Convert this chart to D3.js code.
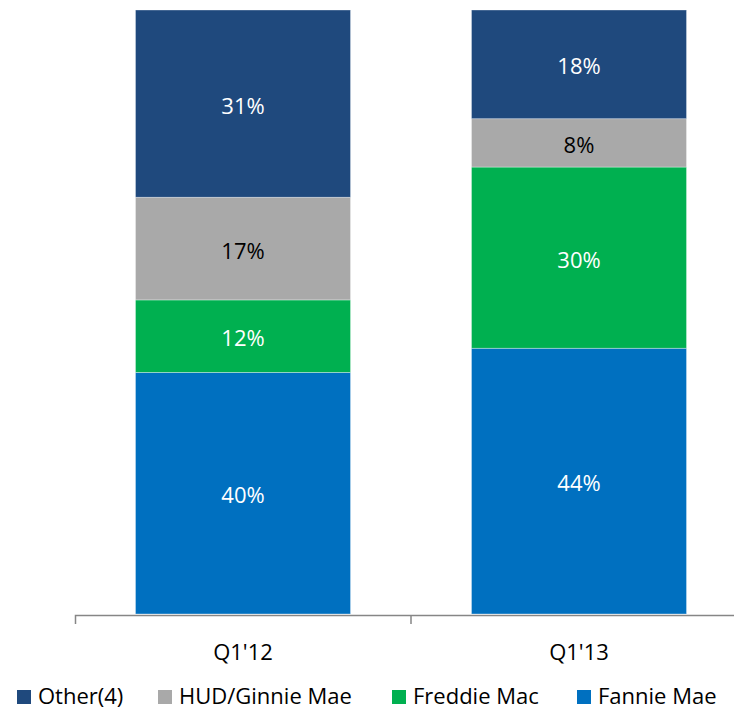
<!DOCTYPE html>
<html>
<head>
<meta charset="utf-8">
<script src="https://cdn.jsdelivr.net/npm/d3@7"></script>
<style>
  body { margin: 0; background: #fff; }
  text { font-family: "Open Sans", sans-serif; }
</style>
</head>
<body>
<div id="chart"></div>
<script>
// data
const quarters = ["Q1'12", "Q1'13"];
const seriesNames = ["Fannie Mae", "Freddie Mac", "HUD/Ginnie Mae", "Other(4)"];
const fannieMae = [40, 44];
const freddieMac = [12, 30];
const hudGinnieMae = [17, 8];
const other = [31, 18];

const colors = ["#0070c0", "#00b050", "#a9a9a9", "#1f497d"];
const labelColors = ["#fff", "#fff", "#000", "#fff"];
const legendOrder = [3, 2, 1, 0]; // Other first, Fannie last

const width = 734, height = 711;
const margin = {top: 10, left: 75, bottom: 97};
const fontSize = 22;
// legend item left edges (layout)
const legendX = [17, 158, 392, 577];

const svg = d3.select("#chart")
    .append("svg")
        .attr("width", width)
        .attr("height", height);

// build rows for the stack
const rows = quarters.map((q, i) => ({
    quarter: q,
    "Fannie Mae": fannieMae[i],
    "Freddie Mac": freddieMac[i],
    "HUD/Ginnie Mae": hudGinnieMae[i],
    "Other(4)": other[i]
}));

const stacked = d3.stack().keys(seriesNames)(rows);

// X axis: band runs past the right edge, like the original
const x = d3.scaleBand()
    .domain(quarters)
    .range([margin.left, margin.left + 672])
    .paddingInner(0.36)
    .paddingOuter(0.18);

const y = d3.scaleLinear()
    .domain([0, 100])
    .range([height - margin.bottom, margin.top]);

const baseY = y(0);

// bars
const layer = svg.append("g")
    .selectAll("g")
    .data(stacked)
    .join("g")
        .attr("fill", (d, i) => colors[i]);

layer.selectAll("rect")
    .data(d => d)
    .join("rect")
        .attr("x", d => x(d.data.quarter))
        .attr("y", d => y(d[1]))
        .attr("height", d => y(d[0]) - y(d[1]))
        .attr("width", x.bandwidth())
        .attr("stroke", "rgba(255,255,255,0.45)")
        .attr("stroke-width", 0.75);

// segment labels
layer.each(function (s, i) {
    d3.select(this).selectAll("text")
        .data(s)
        .join("text")
            .attr("x", d => x(d.data.quarter) + x.bandwidth() / 2)
            .attr("y", d => (y(d[0]) + y(d[1])) / 2 + 2)
            .attr("dy", "0.36em")
            .attr("text-anchor", "middle")
            .attr("fill", labelColors[i])
            .style("font-size", fontSize + "px")
            .text(d => (d[1] - d[0]) + "%");
});

// axis
const axis = svg.append("g")
    .attr("transform", `translate(0,${baseY + 1})`)
    .call(d3.axisBottom(x).tickSize(0).tickSizeOuter(9).tickPadding(0));

axis.select(".domain").attr("stroke", "#868686").attr("stroke-width", 1.5);
axis.selectAll(".tick text")
    .attr("dy", null)
    .attr("y", 45)
    .attr("fill", "#000")
    .style("font-size", fontSize + "px")
    .style("font-family", "'Open Sans', sans-serif");

// boundary ticks between categories
const step = x.step();
axis.selectAll(".sep")
    .data(quarters.slice(1))
    .join("line")
        .attr("class", "sep")
        .attr("x1", d => x(d) - step * x.paddingInner() / 2)
        .attr("x2", d => x(d) - step * x.paddingInner() / 2)
        .attr("y1", 0)
        .attr("y2", 9)
        .attr("stroke", "#868686")
        .attr("stroke-width", 1.5);

// legend
const legend = svg.append("g")
    .selectAll("g")
    .data(legendOrder)
    .join("g")
        .attr("transform", (d, i) => `translate(${legendX[i]},0)`);

legend.append("rect")
    .attr("x", 0)
    .attr("y", 690)
    .attr("width", 14)
    .attr("height", 14)
    .attr("fill", d => colors[d]);

legend.append("text")
    .attr("x", 21)
    .attr("y", 704)
    .attr("fill", "#000")
    .style("font-size", fontSize + "px")
    .text(d => seriesNames[d]);
</script>
</body>
</html>
